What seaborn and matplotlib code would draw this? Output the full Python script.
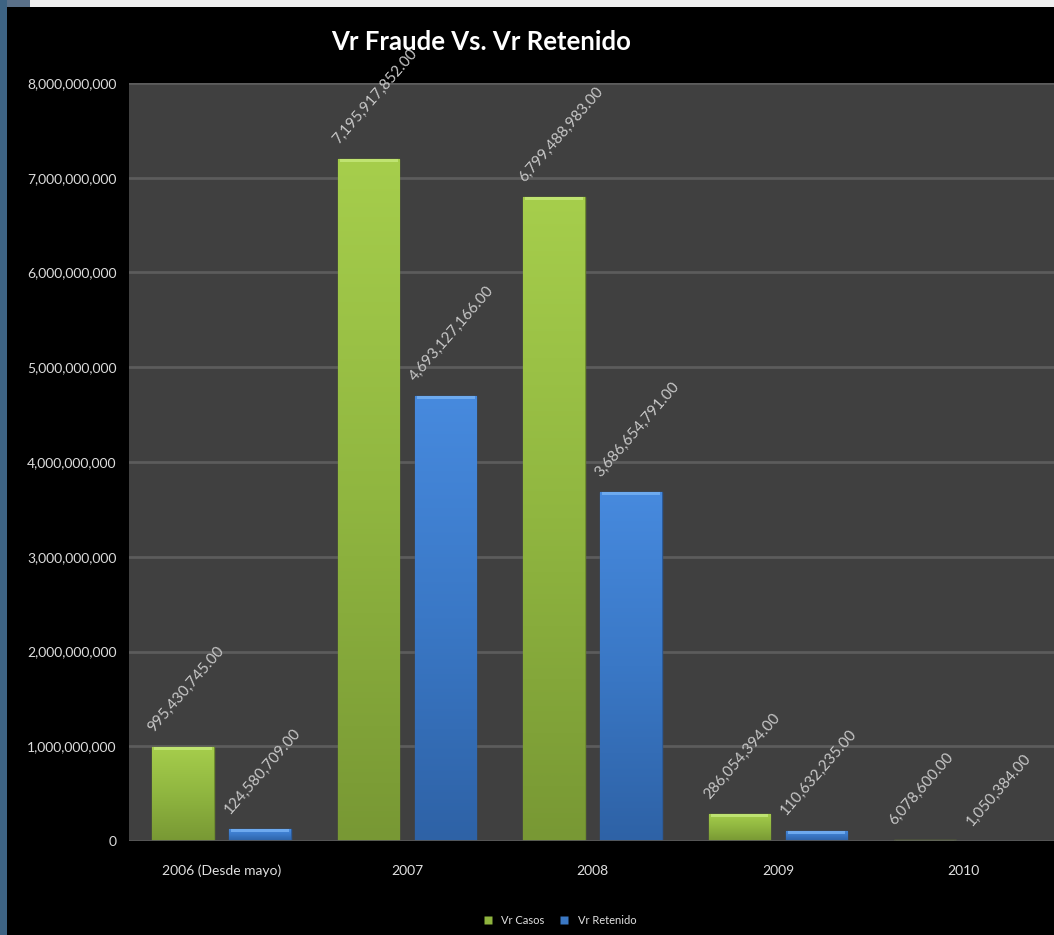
import numpy as np
import pandas as pd
import matplotlib
matplotlib.use("Agg")
import matplotlib.pyplot as plt
import seaborn as sns
from matplotlib.colors import LinearSegmentedColormap
from matplotlib.patches import Rectangle
from matplotlib.lines import Line2D

# ---- data ----
years = ["2006 (Desde mayo)", "2007", "2008", "2009", "2010"]
vr_casos = [995430745.00, 7195917852.00, 6799488983.00, 286054394.00, 6078600.00]
vr_retenido = [124580709.00, 4693127166.00, 3686654791.00, 110632235.00, 1050384.00]
series = ["Vr Casos", "Vr Retenido"]
yticks = [0, 1e9, 2e9, 3e9, 4e9, 5e9, 6e9, 7e9, 8e9]

df = pd.DataFrame({
    "year": years * 2,
    "value": vr_casos + vr_retenido,
    "serie": [series[0]] * len(years) + [series[1]] * len(years),
})

sns.set_theme(style="dark")
plt.rcParams["font.family"] = ["Lato", "DejaVu Sans"]

green = "#8fb43e"
blue = "#3b78c4"

fig = plt.figure(figsize=(10.54, 9.35), dpi=100, facecolor="black")
ax = fig.add_axes([129 / 1054, 94 / 935, 1 - 129 / 1054 + 0.002, (841 - 83) / 935])
ax.set_facecolor("#404040")

sns.barplot(data=df, x="year", y="value", hue="serie", palette=[green, blue],
            width=0.83, gap=0.2, ax=ax, legend=False, saturation=1,
            edgecolor="none", linewidth=0)

# gradient fills on bars
cm_green = LinearSegmentedColormap.from_list("g", ["#789834", "#90b640", "#a6ce4c"])
cm_blue = LinearSegmentedColormap.from_list("b", ["#2e62a6", "#3a78c6", "#478ade"])
grad = np.linspace(0, 1, 256).reshape(-1, 1)
px = 8e9 / 758.0  # data units per pixel (vertical)
bars = [p for p in ax.patches if isinstance(p, Rectangle) and p.get_height() > 0]
for p in bars:
    x, y, w, h = p.get_x(), p.get_y(), p.get_width(), p.get_height()
    fc = p.get_facecolor()
    is_green = fc[1] > fc[2]
    cmap = cm_green if is_green else cm_blue
    edge = "#6e8c30" if is_green else "#2c5a98"
    p.set_edgecolor(edge)
    p.set_linewidth(1.0)
    im = ax.imshow(grad, extent=[x, x + w, y, y + h], origin="lower", aspect="auto",
                   cmap=cmap, zorder=p.get_zorder() + 0.1)
    im.set_clip_path(p)
    # top bevel highlight
    top_col = "#c2e676" if is_green else "#72aef2"
    hh = min(h, 3 * px)
    ax.add_patch(Rectangle((x + 0.01, y + h - hh), w - 0.02, hh, facecolor=top_col,
                           edgecolor="none", alpha=0.9, zorder=p.get_zorder() + 0.2))

# value labels
vals = vr_casos + vr_retenido
for p, v in zip(bars, vals):
    cx = p.get_x() + p.get_width() / 2
    top = p.get_height()
    ax.annotate(f"{v:,.2f}", xy=(cx, top), xytext=(-20, 9), textcoords="offset points",
                rotation=49, rotation_mode="anchor", ha="left", va="bottom",
                fontsize=11, color="#c8c8c8", zorder=5)

ax.set_xlim(-0.5, 4.5)
ax.set_ylim(0, 8e9)
ax.set_yticks(yticks)
ax.set_yticklabels([f"{int(t):,}" for t in yticks])
ax.yaxis.grid(True, color="#5c5c5c", linewidth=2)
ax.xaxis.grid(False)
ax.set_axisbelow(True)
ax.tick_params(axis="y", colors="#dcdcdc", labelsize=10, length=0, pad=9)
ax.tick_params(axis="x", colors="#e0e0e0", labelsize=10, length=0, pad=17)
ax.set_xlabel("")
ax.set_ylabel("")
for s in ax.spines.values():
    s.set_visible(False)
ax.axhline(0, color="#555555", linewidth=2, zorder=3)

fig.text(0.456, 0.955, "Vr Fraude Vs. Vr Retenido", ha="center", va="center",
         fontsize=18.5, fontweight="bold", color="white")

handles = [Line2D([], [], marker="s", linestyle="none", markersize=6,
                  markerfacecolor=c, markeredgecolor="none") for c in (green, blue)]
leg = fig.legend(handles, series, loc="center", bbox_to_anchor=(0.528, 0.016),
                 ncol=2, frameon=False, fontsize=8, handletextpad=0.2, columnspacing=0.8)
for t in leg.get_texts():
    t.set_color("#e0e0e0")

# slide decoration: left blue strip and top light strip
fig.patches.append(Rectangle((0, 0), 7 / 1054, 1, transform=fig.transFigure,
                             facecolor="#3d6383", edgecolor="none", zorder=10))
fig.patches.append(Rectangle((7 / 1054, 1 - 7 / 935), 23 / 1054, 7 / 935, transform=fig.transFigure,
                             facecolor="#5a7088", edgecolor="none", zorder=10))
fig.patches.append(Rectangle((30 / 1054, 1 - 7 / 935), 1, 7 / 935, transform=fig.transFigure,
                             facecolor="#f0f0f0", edgecolor="none", zorder=10))

fig.savefig("out.png", dpi=100, facecolor="black")
